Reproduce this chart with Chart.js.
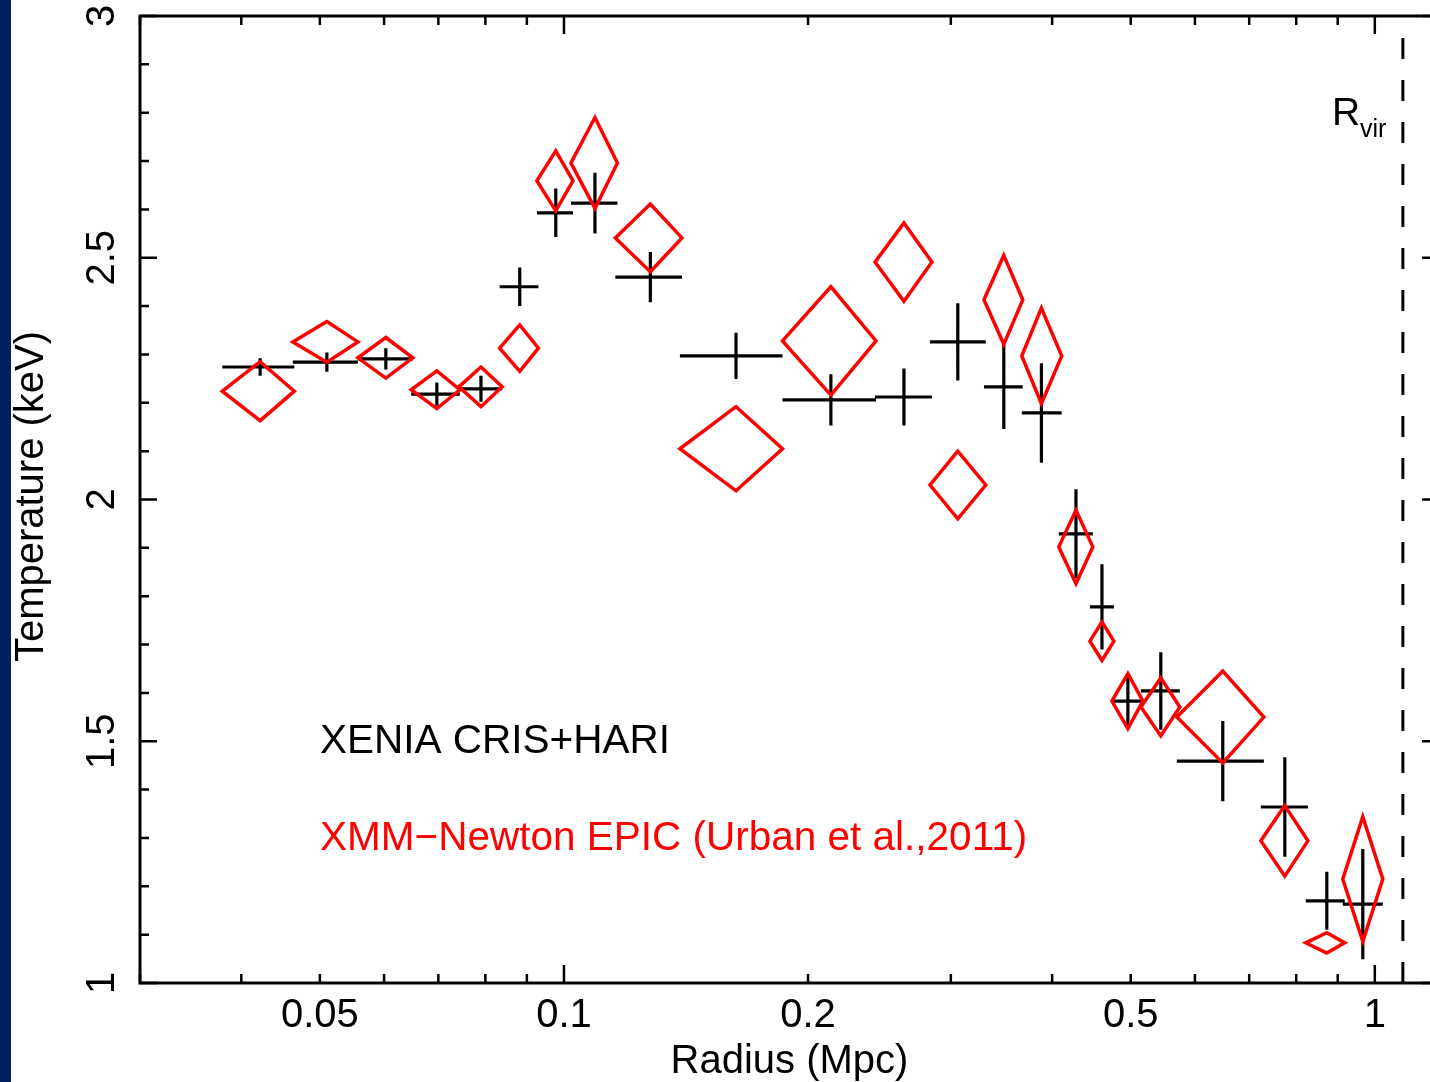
<!DOCTYPE html>
<html>
<head>
<meta charset="utf-8">
<script src="https://cdn.jsdelivr.net/npm/chart.js@4"></script>
<style>
  html, body { margin: 0; padding: 0; overflow: hidden; background: #fff; }
  #wrap { position: relative; width: 1450px; height: 1082px; }
  #strip { position: absolute; left: 0; top: 0; width: 11px; height: 1082px; background: #002060; z-index: 2; }
</style>
</head>
<body>
<div id="wrap">
  <div id="strip"></div>
  <canvas id="chart" width="1450" height="1082"></canvas>
</div>
<script>
// radial bins (Mpc): centre, lower edge, upper edge
const radius    = [0.0422, 0.0510, 0.0603, 0.0697, 0.0790, 0.0882, 0.0977, 0.1092, 0.1278, 0.163, 0.2134, 0.2626, 0.306, 0.3487, 0.388, 0.428, 0.4608, 0.496, 0.5446, 0.6494, 0.7745, 0.8726, 0.9665];
const radiusLow = [0.0379, 0.0463, 0.0557, 0.0648, 0.0742, 0.0833, 0.0926, 0.1020, 0.1157, 0.139, 0.186, 0.2419, 0.2828, 0.3296, 0.367, 0.4076, 0.4453, 0.474, 0.5147, 0.570, 0.7235, 0.822, 0.9131];
const radiusHigh= [0.0465, 0.0557, 0.0651, 0.0744, 0.0839, 0.0930, 0.1026, 0.1164, 0.1398, 0.186, 0.2426, 0.2843, 0.3313, 0.368, 0.411, 0.449, 0.4767, 0.5176, 0.5748, 0.7298, 0.827, 0.918, 1.023];

// XENIA CRIS+HARI (keV)
const xeniaT   = [2.274, 2.284, 2.291, 2.218, 2.229, 2.440, 2.593, 2.613, 2.460, 2.297, 2.206, 2.212, 2.326, 2.233, 2.179, 1.929, 1.778, 1.583, 1.604, 1.459, 1.364, 1.170, 1.163];
const xeniaErr = [0.018, 0.020, 0.022, 0.024, 0.027, 0.040, 0.050, 0.063, 0.052, 0.048, 0.053, 0.059, 0.080, 0.087, 0.103, 0.092, 0.088, 0.057, 0.080, 0.083, 0.103, 0.060, 0.114];

// XMM-Newton EPIC (keV)
const xmmT   = [2.224, 2.326, 2.293, 2.227, 2.233, 2.313, 2.659, 2.696, 2.541, 2.105, 2.328, 2.491, 2.030, 2.413, 2.297, 1.902, 1.707, 1.583, 1.571, 1.550, 1.294, 1.083, 1.215];
const xmmErr = [0.061, 0.042, 0.042, 0.039, 0.041, 0.048, 0.062, 0.094, 0.070, 0.087, 0.112, 0.081, 0.070, 0.092, 0.099, 0.076, 0.040, 0.057, 0.060, 0.095, 0.073, 0.021, 0.129];

const rVir = 1.083;

const xTickValues = [0.05, 0.1, 0.2, 0.5, 1];
const xTickLabels = ['0.05', '0.1', '0.2', '0.5', '1'];
const xMinorTicks = [0.03, 0.04, 0.05, 0.06, 0.07, 0.08, 0.09, 0.2, 0.3, 0.4, 0.5, 0.6, 0.7, 0.8, 0.9];
const xMajorTicks = [0.1, 1];
const yTickValues = [1, 1.5, 2, 2.5, 3];
const yTickLabels = ['1', '1.5', '2', '2.5', '3'];

const FONT = '"Liberation Sans", Arial, Helvetica, sans-serif';
const RED = '#ff0000';
const gap = { x: null, y: null };

// crosses: horizontal bar, then vertical bar
const crossPoints = [];
radius.forEach((r, i) => {
  crossPoints.push({ x: radiusLow[i], y: xeniaT[i] }, { x: radiusHigh[i], y: xeniaT[i] }, gap);
  crossPoints.push({ x: r, y: xeniaT[i] - xeniaErr[i] }, { x: r, y: xeniaT[i] + xeniaErr[i] }, gap);
});

// diamonds: vertices at the x and y error limits
const diamondPoints = [];
radius.forEach((r, i) => {
  diamondPoints.push(
    { x: radiusLow[i], y: xmmT[i] },
    { x: r, y: xmmT[i] + xmmErr[i] },
    { x: radiusHigh[i], y: xmmT[i] },
    { x: r, y: xmmT[i] - xmmErr[i] },
    { x: radiusLow[i], y: xmmT[i] },
    { x: r, y: xmmT[i] + xmmErr[i] },
    gap
  );
});

// frame, ticks and texts
const framePlugin = {
  id: 'frame',
  afterDraw(chart) {
    const { ctx, chartArea: a, scales: { x, y } } = chart;
    ctx.save();
    ctx.strokeStyle = '#000';
    ctx.lineWidth = 3;
    ctx.strokeRect(a.left, a.top, a.right - a.left, a.bottom - a.top);

    ctx.beginPath();
    const xt = (v, len) => {
      const px = x.getPixelForValue(v);
      ctx.moveTo(px, a.bottom); ctx.lineTo(px, a.bottom - len);
      ctx.moveTo(px, a.top); ctx.lineTo(px, a.top + len);
    };
    xMinorTicks.forEach(v => xt(v, 9));
    xMajorTicks.forEach(v => xt(v, 18));
    for (let k = 10; k <= 30; k++) {
      const v = k / 10;
      const len = (k % 5 === 0) ? 17 : 9;
      const py = y.getPixelForValue(v);
      ctx.moveTo(a.left, py); ctx.lineTo(a.left + len, py);
      ctx.moveTo(a.right, py); ctx.lineTo(a.right - len, py);
    }
    ctx.lineWidth = 2.5;
    ctx.stroke();

    ctx.fillStyle = '#000';
    ctx.font = '40px ' + FONT;
    ctx.textAlign = 'center';
    ctx.textBaseline = 'alphabetic';
    xTickValues.forEach((v, i) => {
      ctx.fillText(xTickLabels[i], x.getPixelForValue(v), 1027);
    });
    yTickValues.forEach((v, i) => {
      ctx.save();
      ctx.translate(114, y.getPixelForValue(v));
      ctx.rotate(-Math.PI / 2);
      ctx.fillText(yTickLabels[i], 0, 0);
      ctx.restore();
    });

    ctx.fillText('Radius (Mpc)', (a.left + a.right) / 2, 1073);
    ctx.save();
    ctx.translate(43, (a.top + a.bottom) / 2 - 3);
    ctx.rotate(-Math.PI / 2);
    ctx.fillText('Temperature (keV)', 0, 0);
    ctx.restore();

    ctx.textAlign = 'left';
    ctx.font = '40.5px ' + FONT;
    ctx.fillText('XENIA CRIS+HARI', 320, 753);
    ctx.fillStyle = RED;
    ctx.fillText('XMM\u2212Newton EPIC (Urban et al.,2011)', 320, 850);

    ctx.fillStyle = '#000';
    ctx.font = '39px ' + FONT;
    ctx.fillText('R', 1332, 125);
    ctx.font = '25px ' + FONT;
    ctx.fillText('vir', 1360, 137);
    ctx.restore();
  }
};

new Chart(document.getElementById('chart'), {
  type: 'scatter',
  data: {
    datasets: [
      {
        label: 'XMM-Newton EPIC',
        data: diamondPoints,
        showLine: true,
        spanGaps: false,
        borderColor: RED,
        borderWidth: 3.5,
        borderJoinStyle: 'miter',
        pointRadius: 0,
        tension: 0
      },
      {
        label: 'XENIA CRIS+HARI',
        data: crossPoints,
        showLine: true,
        spanGaps: false,
        borderColor: '#000',
        borderWidth: 3.2,
        pointRadius: 0,
        tension: 0
      },
      {
        label: 'Rvir',
        data: [{ x: rVir, y: 1 }, { x: rVir, y: 3 }],
        showLine: true,
        borderColor: '#000',
        borderWidth: 3,
        borderDash: [21, 21],
        pointRadius: 0
      }
    ]
  },
  options: {
    responsive: false,
    animation: false,
    layout: { padding: { left: 140, top: 16, right: 11, bottom: 99 } },
    plugins: { legend: { display: false }, tooltip: { enabled: false } },
    scales: {
      x: { type: 'logarithmic', min: 0.03, max: 1.2, display: false },
      y: { type: 'linear', min: 1, max: 3, display: false }
    }
  },
  plugins: [framePlugin]
});
</script>
</body>
</html>
